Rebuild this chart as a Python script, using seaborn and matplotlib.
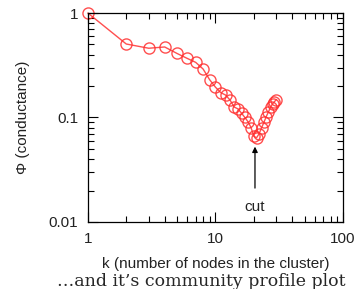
import matplotlib
matplotlib.use("Agg")
import matplotlib.pyplot as plt
import seaborn as sns
import pandas as pd
from matplotlib.ticker import LogLocator, NullFormatter, FixedLocator, FixedFormatter

k_values = [1, 2, 3, 4, 5, 6, 7, 8, 9, 10, 11, 12, 13, 14, 15, 16, 17, 18, 19, 20,
            21, 22, 23, 24, 25, 26, 27, 28, 29, 30]
phi_values = [1.0, 0.505, 0.46, 0.473, 0.41, 0.368, 0.337, 0.291, 0.23, 0.195,
              0.173, 0.164, 0.147, 0.126, 0.121, 0.11, 0.10, 0.091, 0.08, 0.066,
              0.064, 0.07, 0.08, 0.09, 0.102, 0.113, 0.125, 0.135, 0.142, 0.148]
x_ticks = [1, 10, 100]
x_ticklabels = ["1", "10", "100"]
y_ticks = [0.01, 0.1, 1]
y_ticklabels = ["0.01", "0.1", "1"]
cut_k = 20.4
cut_tip = 0.0526
cut_tail = 0.0211
cut_text_y = 0.0138

sns.set_style("ticks")
plt.rcParams['font.family'] = ['Liberation Sans', 'DejaVu Sans']

df = pd.DataFrame({"k": k_values, "phi": phi_values})

fig = plt.figure(figsize=(3.6, 2.89), dpi=100)
ax = fig.add_axes([0.244, 0.232, 0.709, 0.723])

red = "#ff3030"
sns.lineplot(data=df, x="k", y="phi", ax=ax, color=red, linewidth=1.0, alpha=0.85,
             marker="o", markersize=8, markerfacecolor="none",
             markeredgecolor=red, markeredgewidth=1.0, clip_on=False)

ax.set_xscale("log")
ax.set_yscale("log")
ax.set_xlim(1, 100)
ax.set_ylim(0.01, 1)

ax.xaxis.set_major_locator(FixedLocator(x_ticks))
ax.xaxis.set_major_formatter(FixedFormatter(x_ticklabels))
ax.yaxis.set_major_locator(FixedLocator(y_ticks))
ax.yaxis.set_major_formatter(FixedFormatter(y_ticklabels))
ax.xaxis.set_minor_locator(LogLocator(base=10, subs=range(2, 10)))
ax.yaxis.set_minor_locator(LogLocator(base=10, subs=range(2, 10)))
ax.xaxis.set_minor_formatter(NullFormatter())
ax.yaxis.set_minor_formatter(NullFormatter())

ax.tick_params(which="both", direction="in", top=True, right=True,
               labelsize=11, color="black", labelcolor="#222222", width=0.8)
ax.tick_params(which="major", length=7, pad=7)
ax.tick_params(which="minor", length=4)
for s in ax.spines.values():
    s.set_color("black")
    s.set_linewidth(0.9)

ax.set_xlabel("k (number of nodes in the cluster)", fontsize=11, labelpad=8,
              color="#222222")
ax.set_ylabel("\u03a6 (conductance)", fontsize=11, labelpad=13, color="#222222")

ax.annotate("", xy=(cut_k, cut_tip), xytext=(cut_k, cut_tail),
            arrowprops=dict(arrowstyle="-|>", color="black", lw=0.9,
                            mutation_scale=8, shrinkA=0, shrinkB=0))
ax.text(cut_k, cut_text_y, "cut", ha="center", va="center", fontsize=11,
        color="#222222")

fig.text(0.56, 0.025, "\u2026and it\u2019s community profile plot", ha="center",
         va="center", fontsize=12.5, family=["DejaVu Serif"])

fig.savefig("out.png", dpi=100)
